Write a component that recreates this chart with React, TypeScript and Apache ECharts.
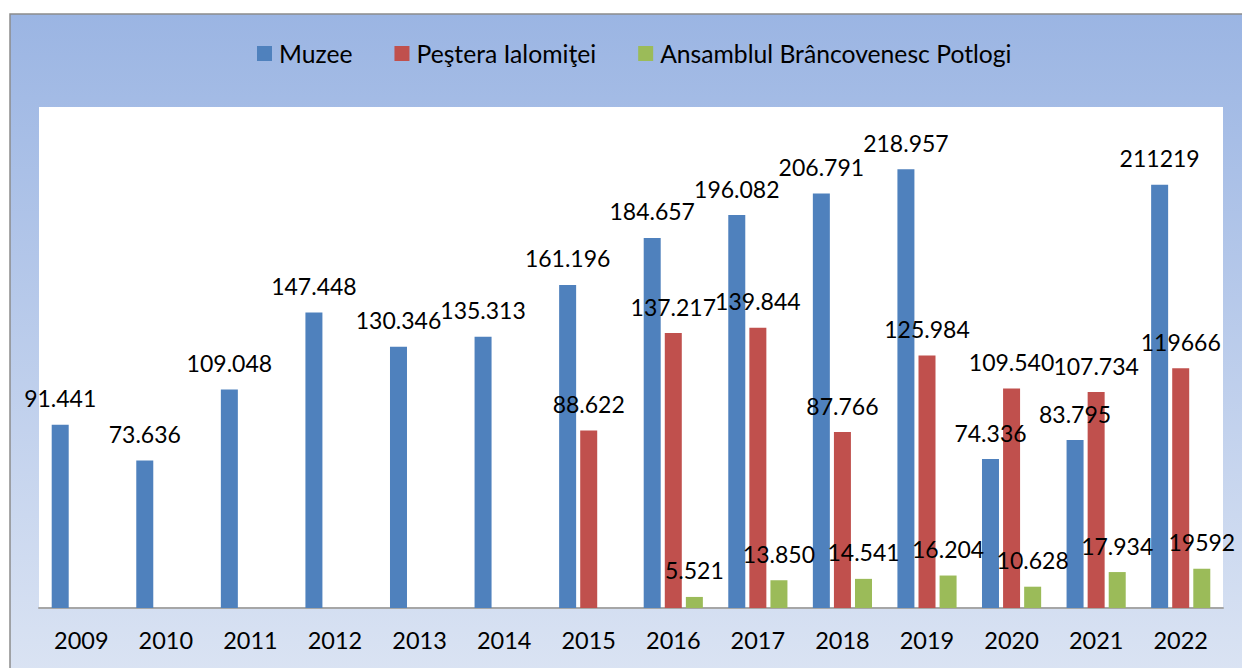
import React, { useEffect, useRef } from "react";
import * as echarts from "echarts";

const years = ["2009", "2010", "2011", "2012", "2013", "2014", "2015", "2016", "2017", "2018", "2019", "2020", "2021", "2022"];
const muzee = [91441, 73636, 109048, 147448, 130346, 135313, 161196, 184657, 196082, 206791, 218957, 74336, 83795, 211219];
const pestera = [null, null, null, null, null, null, 88622, 137217, 139844, 87766, 125984, 109540, 107734, 119666];
const potlogi = [null, null, null, null, null, null, null, 5521, 13850, 14541, 16204, 10628, 17934, 19592];
const muzeeLabels = ["91.441", "73.636", "109.048", "147.448", "130.346", "135.313", "161.196", "184.657", "196.082", "206.791", "218.957", "74.336", "83.795", "211219"];
const pesteraLabels = ["", "", "", "", "", "", "88.622", "137.217", "139.844", "87.766", "125.984", "109.540", "107.734", "119666"];
const potlogiLabels = ["", "", "", "", "", "", "", "5.521", "13.850", "14.541", "16.204", "10.628", "17.934", "19592"];
const seriesNames = ["Muzee", "Peştera Ialomiţei", "Ansamblul Brâncovenesc Potlogi"];

const FONT = "Lato, 'Noto Sans', sans-serif";

export default function App() {
  const ref = useRef<HTMLDivElement>(null);
  useEffect(() => {
    document.body.style.margin = "0";
    const chart = echarts.init(ref.current!, null, { renderer: "svg" });
    const mkLabel = (labels: string[]) => ({
      show: true,
      position: "top",
      distance: 15,
      color: "#000",
      fontSize: 23,
      fontFamily: FONT,
      formatter: (p: any) => labels[p.dataIndex] || "",
    });
    chart.setOption({
      animation: false,
      graphic: [
        {
          type: "rect",
          z: -10,
          shape: { x: 10, y: 14, width: 1260, height: 700 },
          style: {
            fill: new echarts.graphic.LinearGradient(0, 0, 0, 1, [
              { offset: 0, color: "#9BB5E3" },
              { offset: 1, color: "#DEE6F4" },
            ]),
            stroke: "#8C8C8C",
            lineWidth: 1.5,
          },
          silent: true,
        },
      ],
      legend: {
        left: 257,
        top: 41,
        padding: 0,
        icon: "rect",
        itemWidth: 15,
        itemHeight: 15,
        itemGap: 42,
        textStyle: { color: "#000", fontSize: 24.7, fontFamily: FONT, padding: [0, 0, 0, 2] },
        data: seriesNames,
      },
      grid: {
        left: 39,
        right: 19,
        top: 107,
        bottom: 60,
        show: true,
        backgroundColor: "#FFFFFF",
        borderWidth: 0,
      },
      xAxis: {
        type: "category",
        data: years,
        axisLine: { lineStyle: { color: "#A6A6A6", width: 2 } },
        axisTick: { show: false },
        axisLabel: { color: "#000", fontSize: 23.5, fontFamily: FONT, margin: 20 },
      },
      yAxis: {
        type: "value",
        min: 0,
        max: 250000,
        show: false,
        splitLine: { show: false },
      },
      series: [
        {
          name: seriesNames[0],
          type: "bar",
          data: muzee,
          barWidth: 17,
          barGap: "24%",
          itemStyle: { color: "#4F81BD" },
          label: mkLabel(muzeeLabels),
        },
        {
          name: seriesNames[1],
          type: "bar",
          data: pestera,
          barWidth: 17,
          barGap: "24%",
          itemStyle: { color: "#C0504D" },
          label: mkLabel(pesteraLabels),
        },
        {
          name: seriesNames[2],
          type: "bar",
          data: potlogi,
          barWidth: 17,
          barGap: "24%",
          itemStyle: { color: "#9BBB59" },
          label: mkLabel(potlogiLabels),
        },
      ],
    });
    return () => chart.dispose();
  }, []);
  return <div ref={ref} style={{ width: 1242, height: 668 }} />;
}
